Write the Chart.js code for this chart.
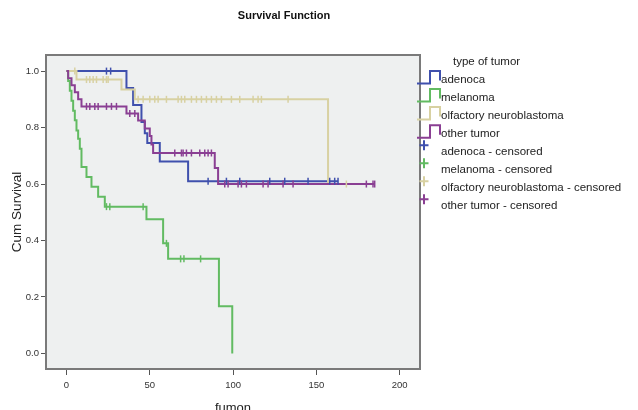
<!DOCTYPE html>
<html><head><meta charset="utf-8">
<script src="https://cdn.jsdelivr.net/npm/chart.js@4.4.1/dist/chart.umd.min.js"></script>
<style>html,body{margin:0;padding:0;background:#fff;overflow:hidden}#wrap{position:relative;width:638px;height:410px}</style>
</head><body><div id="wrap"><canvas id="c" width="638" height="410"></canvas></div>
<script>
// ---- data ----
const chartTitle = 'Survival Function';
const legendTitle = 'type of tumor';
const seriesNames = ['adenoca', 'melanoma', 'olfactory neuroblastoma', 'other tumor'];
const xTicks = [0, 50, 100, 150, 200];
const yTicks = [0.0, 0.2, 0.4, 0.6, 0.8, 1.0];

// adenoca
const adenoTimes = [0, 36, 40, 45, 47, 48.5, 56, 73, 163];
const adenoSurv  = [1.0, 0.94, 0.88, 0.82, 0.78, 0.745, 0.68, 0.61, 0.61];
const adenoCens  = [24, 26.5, 85, 96, 104, 122, 131, 145, 158, 161, 163];

// melanoma
const melTimes = [0, 1, 2, 3, 4, 5, 6, 7, 8, 9, 12, 15, 19, 23, 48, 58, 61, 91.5, 99.5];
const melSurv  = [1.0, 0.965, 0.93, 0.895, 0.86, 0.826, 0.79, 0.76, 0.725, 0.66, 0.625, 0.59, 0.555, 0.52, 0.475, 0.39, 0.335, 0.167, 0.0];
const melCens  = [24, 26, 46, 60, 68.5, 70.5, 80.5];

// olfactory neuroblastoma
const olfTimes = [0, 6, 33, 41, 157, 168];
const olfSurv  = [1.0, 0.97, 0.935, 0.90, 0.60, 0.60];
const olfCens  = [5, 12, 14, 16, 18, 22, 24, 25, 43, 46, 50, 53, 55, 60, 67, 69, 71, 75, 78, 81, 84, 87, 90, 93, 99, 104, 112, 115, 117, 133, 168];

// other tumor
const othTimes = [0, 1, 3, 5, 7, 9, 36, 43, 47, 50, 51, 52, 89, 91, 185];
const othSurv  = [1.0, 0.975, 0.95, 0.925, 0.90, 0.875, 0.85, 0.825, 0.797, 0.77, 0.74, 0.71, 0.657, 0.60, 0.60];
const othCens  = [12, 14, 17, 19, 24, 27, 30, 38, 41, 65, 69, 70, 72, 75, 80, 83, 85, 87, 95, 97, 103, 105, 108, 118, 121, 130, 136, 180, 184, 185];

const colors = ['#3f50ad', '#62bb62', '#d8d1a2', '#8a3f93'];
const FONT = 'Liberation Sans, Arial, sans-serif';

function survAt(times, surv, t) {
  let s = surv[0];
  for (let i = 0; i < times.length; i++) { if (times[i] <= t) s = surv[i]; }
  return s;
}
function kmSet(name, times, surv, color, order) {
  return { type: 'line', label: name, data: times.map((t, i) => ({x: t, y: surv[i]})),
    stepped: 'before', borderColor: color, borderWidth: 2, pointRadius: 0, fill: false, order: order };
}
function censSet(name, cens, times, surv, color, order) {
  return { type: 'scatter', label: name + ' - censored',
    data: cens.map(t => ({x: t, y: survAt(times, surv, t)})),
    showLine: false, pointStyle: 'line', pointRadius: 3.5, pointRotation: 90,
    borderColor: color, pointBorderColor: color, pointBorderWidth: 1.5, borderWidth: 1.5, order: order };
}

const datasets = [
  kmSet(seriesNames[0], adenoTimes, adenoSurv, colors[0], 5),
  kmSet(seriesNames[1], melTimes, melSurv, colors[1], 4),
  kmSet(seriesNames[2], olfTimes, olfSurv, colors[2], 3),
  kmSet(seriesNames[3], othTimes, othSurv, colors[3], 2),
  censSet(seriesNames[0], adenoCens, adenoTimes, adenoSurv, colors[0], 1),
  censSet(seriesNames[1], melCens, melTimes, melSurv, colors[1], 1),
  censSet(seriesNames[2], olfCens, olfTimes, olfSurv, colors[2], 1),
  censSet(seriesNames[3], othCens, othTimes, othSurv, colors[3], 0),
];

const bgPlugin = {
  id: 'bg',
  beforeDraw(chart) {
    const {ctx, chartArea: a} = chart;
    ctx.save();
    ctx.fillStyle = '#ffffff';
    ctx.fillRect(0, 0, chart.width, chart.height);
    ctx.fillStyle = '#eef0f0';
    ctx.fillRect(a.left, a.top, a.right - a.left, a.bottom - a.top);
    ctx.restore();
  },
  afterDraw(chart) {
    const {ctx, chartArea: a} = chart;
    ctx.save();
    ctx.strokeStyle = '#7a7a7a';
    ctx.lineWidth = 2;
    ctx.strokeRect(a.left, a.top, a.right - a.left, a.bottom - a.top);
    // chart title
    ctx.fillStyle = '#111';
    ctx.font = 'bold 11px ' + FONT;
    ctx.textAlign = 'center';
    ctx.textBaseline = 'middle';
    ctx.fillText(chartTitle, 284, 16);
    // legend
    ctx.font = '11.5px ' + FONT;
    ctx.textAlign = 'left';
    ctx.fillStyle = '#222';
    ctx.fillText(legendTitle, 453, 62);
    const labels = seriesNames.concat(seriesNames.map(n => n + ' - censored'));
    labels.forEach((lab, i) => {
      const r = 79.5 + i * 18.05;
      const col = colors[i % 4];
      ctx.strokeStyle = col;
      ctx.lineWidth = 2;
      ctx.beginPath();
      if (i < 4) {
        ctx.moveTo(417, r + 4);
        ctx.lineTo(430, r + 4);
        ctx.lineTo(430, r - 8.5);
        ctx.lineTo(440, r - 8.5);
        ctx.lineTo(440, r + 1);
      } else {
        ctx.moveTo(419.5, r - 6.5);
        ctx.lineTo(428.5, r - 6.5);
        ctx.moveTo(424, r - 11.5);
        ctx.lineTo(424, r - 1.5);
      }
      ctx.stroke();
      ctx.fillStyle = '#222';
      ctx.fillText(lab, 441, r);
    });
    ctx.restore();
  }
};

new Chart(document.getElementById('c'), {
  data: { datasets },
  plugins: [bgPlugin],
  options: {
    responsive: false,
    animation: false,
    events: [],
    layout: { padding: { left: 0, right: 218, top: 55, bottom: 0 } },
    plugins: { legend: { display: false }, title: { display: false }, tooltip: { enabled: false } },
    scales: {
      x: {
        type: 'linear', min: -12.3, max: 212.2,
        afterFit(s) { s.height = 41; },
        afterBuildTicks(s) { s.ticks = xTicks.map(v => ({value: v})); },
        grid: { drawOnChartArea: false, drawTicks: true, tickLength: 6, color: '#555', lineWidth: 1 },
        border: { display: true, color: '#7a7a7a', width: 2 },
        ticks: { font: { size: 9.5, family: FONT }, color: '#333', padding: 5, maxRotation: 0,
          callback: v => String(v) },
        title: { display: true, text: 'fumon', font: { size: 13, family: FONT }, color: '#222',
          padding: { top: 0, bottom: -6 } }
      },
      y: {
        type: 'linear', min: -0.055, max: 1.057,
        afterFit(s) { s.width = 46; },
        afterBuildTicks(s) { s.ticks = yTicks.map(v => ({value: v})); },
        grid: { drawOnChartArea: false, drawTicks: true, tickLength: 5, color: '#555', lineWidth: 1 },
        border: { display: true, color: '#7a7a7a', width: 2 },
        ticks: { font: { size: 9.5, family: FONT }, color: '#333', padding: 2,
          callback: v => Number(v).toFixed(1) },
        title: { display: true, text: 'Cum Survival', font: { size: 13.5, family: FONT }, color: '#222',
          padding: { top: 9, bottom: 0 } }
      }
    }
  }
});
</script></body></html>
